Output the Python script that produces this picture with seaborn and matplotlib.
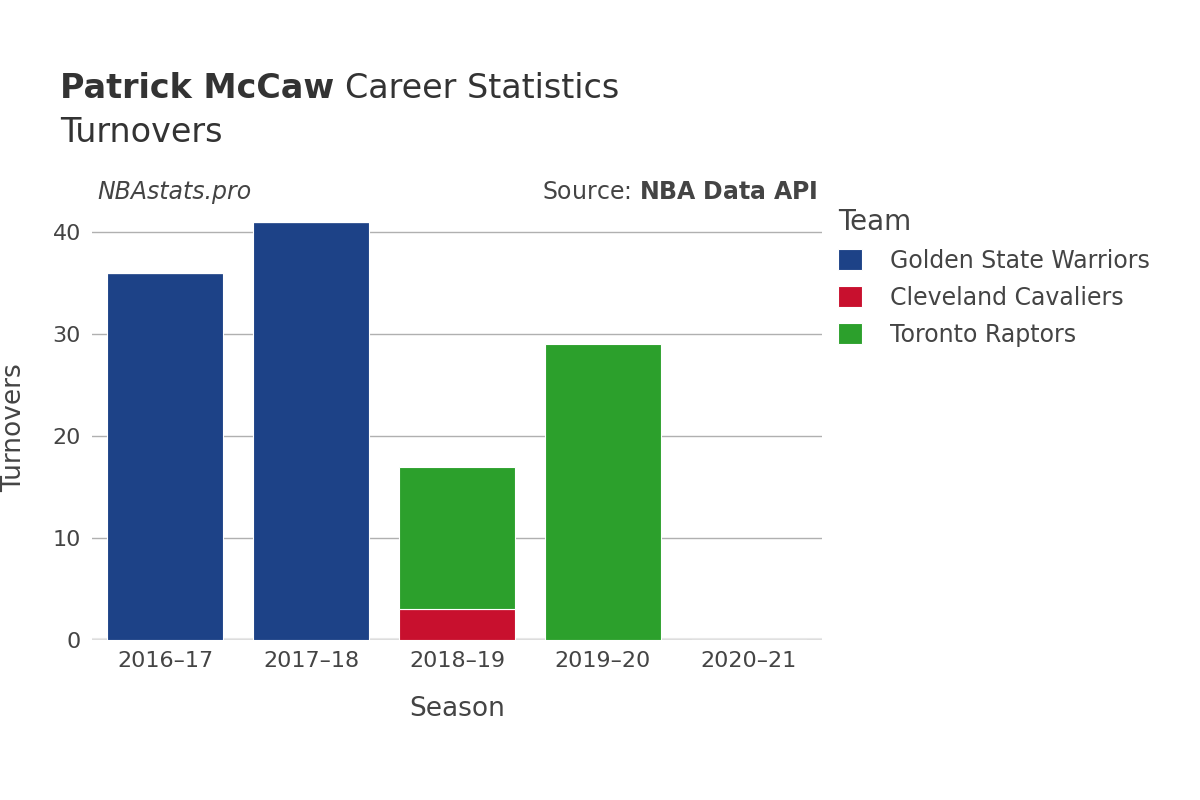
import matplotlib
matplotlib.use("Agg")
import matplotlib.pyplot as plt
import seaborn as sns
import pandas as pd

seasons = ["2016–17", "2017–18", "2018–19", "2019–20", "2020–21"]
gsw = [36, 41, 0, 0, 0]
cle = [0, 0, 3, 0, 0]
tor = [0, 0, 14, 29, 0]
teams = ["Golden State Warriors", "Cleveland Cavaliers", "Toronto Raptors"]
colors = ["#1d4287", "#c8102e", "#2ca02c"]

plt.rcParams["font.family"] = "DejaVu Sans"
fig = plt.figure(figsize=(12, 8), dpi=100)
ax = fig.add_axes([92/1200, 1-640/800, 730/1200, 425/800])

bottom = [0]*5
for name, vals, c in zip(teams, [gsw, cle, tor], colors):
    df = pd.DataFrame({"Season": seasons, "v": vals})
    sns.barplot(data=df, x="Season", y="v", color=c, saturation=1, width=0.8, bottom=bottom,
                ax=ax, edgecolor="white", linewidth=0.8, label=name)
    bottom = [b+v for b, v in zip(bottom, vals)]

handles, labels = ax.get_legend_handles_labels()
if ax.get_legend() is not None:
    ax.get_legend().remove()

ax.set_xlim(-0.5, 4.5)
ax.set_ylim(0, 41.7)
ax.set_yticks([0, 10, 20, 30, 40])
ax.yaxis.grid(True, color="#b0b0b0", linewidth=1)
ax.set_axisbelow(True)
for s in ax.spines.values():
    s.set_visible(False)
ax.axhline(0, color="#e8e8e8", linewidth=3, zorder=0.5)
ax.tick_params(length=0, labelsize=16, labelcolor="#444444", pad=8)
ax.set_xlabel("Season", fontsize=19, color="#444444", labelpad=18)
ax.set_ylabel("Turnovers", fontsize=19, color="#444444", labelpad=18)

t1 = fig.text(60/1200, 1-88/800, "Patrick McCaw", fontsize=24, fontweight="bold", color="#333333", va="center")
fig.canvas.draw()
bb = t1.get_window_extent()
fig.text((bb.x1 + 11)/1200, 1-88/800, "Career Statistics", fontsize=24, color="#333333", va="center")
fig.text(60/1200, 1-132/800, "Turnovers", fontsize=24, color="#333333", va="center")
fig.text(97/1200, 1-192/800, "NBAstats.pro", fontsize=17, style="italic", color="#444444", va="center")
fig.text(818/1200, 1-192/800, "Source: $\\bf{NBA\\ Data\\ API}$", fontsize=17, color="#444444", va="center", ha="right")

leg = fig.legend(handles, labels, loc="upper left", bbox_to_anchor=(838/1200, 1-208/800),
                 title="Team", fontsize=17, title_fontsize=20, frameon=False,
                 handlelength=1.0, handleheight=1.0, handletextpad=1.2,
                 labelspacing=0.55, borderaxespad=0, borderpad=0)
leg._legend_box.align = "left"
for t in leg.get_texts():
    t.set_color("#444444")
leg.get_title().set_color("#444444")

fig.savefig("out.png", dpi=100)
